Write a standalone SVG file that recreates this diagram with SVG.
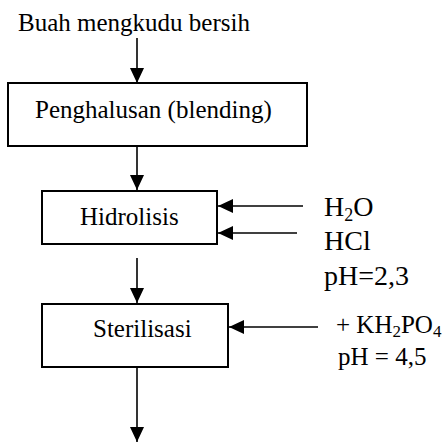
<svg xmlns="http://www.w3.org/2000/svg" width="443" height="442" viewBox="0 0 443 442">
<defs>
<marker id="ah" markerUnits="userSpaceOnUse" markerWidth="16" markerHeight="14" refX="15" refY="7" orient="auto">
<path d="M0,0 L15,7 L0,14 z" fill="#000"/>
</marker>
</defs>
<rect width="443" height="442" fill="#fff"/>
<g id="connectors" stroke="#000" stroke-width="1.6" fill="none">
<line x1="137" y1="38" x2="137" y2="83" marker-end="url(#ah)"/>
<line x1="137" y1="146" x2="137" y2="190" marker-end="url(#ah)"/>
<line x1="137" y1="258" x2="137" y2="303" marker-end="url(#ah)"/>
<line x1="137" y1="367" x2="137" y2="442" marker-end="url(#ah)"/>
<line x1="303" y1="206" x2="218" y2="206" marker-end="url(#ah)"/>
<line x1="297" y1="233" x2="218" y2="233" marker-end="url(#ah)"/>
<line x1="318" y1="327" x2="229" y2="327" marker-end="url(#ah)"/>
</g>
<g id="start">
<text style="font-family:'Liberation Serif',serif;font-size:25px" x="18" y="31">Buah mengkudu bersih</text>
</g>
<g id="penghalusan">
<rect x="8" y="83" width="299" height="63" fill="#fff" stroke="#000" stroke-width="2"/>
<text style="font-family:'Liberation Serif',serif;font-size:25px" x="35" y="118">Penghalusan (blending)</text>
</g>
<g id="hidrolisis">
<rect x="42" y="191" width="175" height="53" fill="#fff" stroke="#000" stroke-width="2"/>
<text style="font-family:'Liberation Serif',serif;font-size:25px" x="80" y="225">Hidrolisis</text>
</g>
<g id="sterilisasi">
<rect x="42" y="304" width="186" height="63" fill="#fff" stroke="#000" stroke-width="2"/>
<text style="font-family:'Liberation Serif',serif;font-size:25px" x="93" y="337">Sterilisasi</text>
</g>
<g id="inputs-hidrolisis">
<text style="font-family:'Liberation Serif',serif;font-size:28px" x="324" y="216">H<tspan font-size="18" dy="5">2</tspan><tspan dy="-5">O</tspan></text>
<text style="font-family:'Liberation Serif',serif;font-size:28px" x="324" y="250">HCl</text>
<text style="font-family:'Liberation Serif',serif;font-size:28px" x="324" y="285">pH=2,3</text>
</g>
<g id="inputs-sterilisasi">
<text style="font-family:'Liberation Serif',serif;font-size:25px" x="336" y="333">+ KH<tspan font-size="17" dy="4">2</tspan><tspan dy="-4">PO</tspan><tspan font-size="17" dy="4">4</tspan></text>
<text style="font-family:'Liberation Serif',serif;font-size:25px" x="338" y="365">pH = 4,5</text>
</g>
</svg>
